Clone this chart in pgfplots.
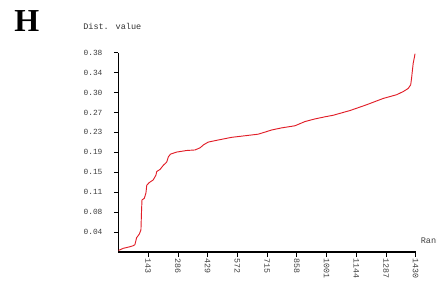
\documentclass[border=0pt]{standalone}
\usepackage{pgfplots}
\pgfplotsset{compat=1.18}
\usepackage{fontspec}
\setmainfont{Liberation Serif}
\newfontfamily\monof{Liberation Mono}
\definecolor{curvered}{RGB}{225,30,40}
\begin{document}
\begin{tikzpicture}
\useasboundingbox (0pt,0pt) rectangle (327.75pt,212.25pt);
\node[font=\fontsize{24}{24}\selectfont\bfseries] at (20.2pt,196.5pt) {H};
\node[font=\monof\fontsize{6.4}{7}\selectfont, anchor=west, inner sep=0, text=black!80] at (62.25pt,192.75pt) {Dist. value};
\node[font=\monof\fontsize{6.4}{7}\selectfont, anchor=west, inner sep=0, text=black!75] at (315.4pt,32.25pt) {Rank};
\begin{axis}[
  at={(88.875pt,23.25pt)}, anchor=south west,
  scale only axis, width=222.9pt, height=149.5pt,
  xmin=0, xmax=1430, ymin=0, ymax=0.379,
  axis x line=bottom, axis y line=left,
  axis line style={-, black, line width=0.8pt},
  tick align=outside,
  major tick length=3.5pt,
  tick style={black, line width=0.6pt},
  xtick={143,286,429,572,715,858,1001,1144,1287,1430},
  xticklabels={143,286,429,572,715,858,1001,1144,1287,1430},
  ytick={0.0379,0.0758,0.1137,0.1516,0.1895,0.2274,0.2653,0.3032,0.3411,0.379},
  yticklabels={0.04,0.08,0.11,0.15,0.19,0.23,0.27,0.30,0.34,0.38},
  xticklabel style={font=\monof\fontsize{6.2}{7}\selectfont, text=black!75, rotate=-90, anchor=west, inner sep=0.5pt, xshift=1pt},
  yticklabel style={font=\monof\fontsize{5.9}{7}\selectfont, text=black!75, anchor=east, xshift=-5pt},
  clip=false,
]
\addplot[curvered, line width=0.7pt, mark=none] coordinates {
(0,0.003) (23,0.007) (55,0.010) (71,0.012) (79,0.014) (87,0.027) (100,0.034)
(108,0.042) (111,0.080) (113,0.099) (124,0.102) (132,0.112) (136,0.127)
(148,0.132) (167,0.137) (180,0.146) (184,0.153) (200,0.157) (216,0.165)
(232,0.171) (240,0.181) (250,0.186) (280,0.190) (328,0.193) (368,0.194)
(392,0.198) (410,0.204) (432,0.209) (480,0.213) (544,0.218) (608,0.221)
(672,0.224) (705,0.228) (737,0.232) (785,0.236) (849,0.240) (897,0.248)
(945,0.253) (993,0.257) (1033,0.260) (1114,0.269) (1194,0.280) (1274,0.292)
(1338,0.299) (1370,0.305) (1394,0.311) (1406,0.318) (1410,0.330) (1418,0.359)
(1427,0.377)
};
\end{axis}
\end{tikzpicture}
\end{document}
